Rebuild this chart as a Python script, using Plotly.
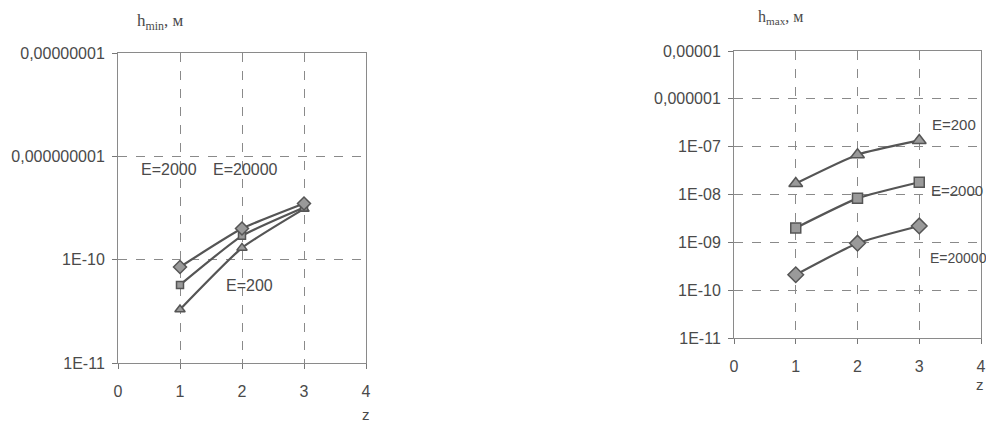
import plotly.graph_objects as go

z = [1, 2, 3]

# Left chart: h_min, m
hmin_E200 = [3.3e-11, 1.3e-10, 3.1e-10]
hmin_E2000 = [5.7e-11, 1.7e-10, 3.2e-10]
hmin_E20000 = [8.5e-11, 2.0e-10, 3.5e-10]

# Right chart: h_max, m
hmax_E200 = [1.7e-8, 6.8e-8, 1.35e-7]
hmax_E2000 = [2.0e-9, 8.3e-9, 1.8e-8]
hmax_E20000 = [2.1e-10, 9.6e-10, 2.2e-9]

left_tickvals = [1e-11, 1e-10, 1e-9, 1e-8]
left_ticktext = ["1E-11", "1E-10", "0,000000001", "0,00000001"]
right_tickvals = [1e-11, 1e-10, 1e-9, 1e-8, 1e-7, 1e-6, 1e-5]
right_ticktext = ["1E-11", "1E-10", "1E-09", "1E-08", "1E-07", "0,000001", "0,00001"]
x_tickvals = [0, 1, 2, 3, 4]

LINE = "#555555"
MFILL = "#9a9a9a"
TXT = "#4a4a4a"
FONT = "Liberation Sans, Arial, sans-serif"

OFF = 8  # page body margin offset
W, H = 994 - 2 * OFF, 430 - 2 * OFF  # avoid page scrollbars

def px(x):
    return (x - OFF) / W

def py(y):
    return 1 - (y - OFF) / H

fig = go.Figure()

def add(xa, ya, ys, sym, size):
    fig.add_trace(go.Scatter(
        x=z, y=ys, xaxis=xa, yaxis=ya, mode="lines+markers",
        line=dict(color=LINE, width=2.2, shape="spline", smoothing=0.5),
        marker=dict(symbol=sym, size=size, color=MFILL, line=dict(color=LINE, width=1.5)),
        showlegend=False, hoverinfo="x+y"))

add("x", "y", hmin_E200, "triangle-up", 9)
add("x", "y", hmin_E2000, "square", 7)
add("x", "y", hmin_E20000, "diamond", 10)
add("x2", "y2", hmax_E200, "triangle-up", 12)
add("x2", "y2", hmax_E2000, "square", 10)
add("x2", "y2", hmax_E20000, "diamond", 12)

axis_common = dict(
    showgrid=True, gridcolor="#8a8a8a", griddash="dash", gridwidth=1,
    showline=True, linecolor="#8a8a8a", linewidth=1, mirror=True,
    ticks="outside", ticklen=5, tickcolor="#777777",
    tickfont=dict(family=FONT, size=16, color=TXT),
    zeroline=False, automargin=False, ticklabeloverflow="allow",
)

fig.update_layout(
    width=W, height=H,
    margin=dict(l=0, r=0, t=0, b=0, autoexpand=False),
    paper_bgcolor="white", plot_bgcolor="white",
    xaxis=dict(domain=[px(118), px(366)], range=[0, 4], tickvals=x_tickvals,
               anchor="y", ticklabelstandoff=9, **axis_common),
    yaxis=dict(domain=[py(363), py(53)], type="log", range=[-11, -8],
               tickvals=left_tickvals, ticktext=left_ticktext, anchor="x",
               ticklabelstandoff=4, **axis_common),
    xaxis2=dict(domain=[px(734), px(981)], range=[0, 4], tickvals=x_tickvals,
                anchor="y2", ticklabelstandoff=9, **axis_common),
    yaxis2=dict(domain=[py(338), py(51)], type="log", range=[-11, -5],
                tickvals=right_tickvals, ticktext=right_ticktext, anchor="x2",
                ticklabelstandoff=4, **axis_common),
)

def ann(x, y, text, size=16, family=FONT, xanchor="left", color=TXT):
    fig.add_annotation(x=px(x), y=py(y), xref="paper", yref="paper", text=text,
                       showarrow=False, xanchor=xanchor, yanchor="middle",
                       font=dict(family=family, size=size, color=color))

SERIF = "Liberation Serif, Times New Roman, serif"
ann(135, 22, "h<sub>min</sub>, м", size=17, family=SERIF)
ann(756, 18, "h<sub>max</sub>, м", size=16, family=SERIF)

ann(139, 170, "E=2000")
ann(211, 170, "E=20000")
ann(224, 285, "E=200")

ann(930, 124, "E=200", size=15)
ann(929, 191, "E=2000", size=15)
ann(928, 258, "E=20000", size=14)

ann(366, 414, "z", size=15, xanchor="center")
ann(980, 384, "z", size=15, xanchor="center")

fig.write_html("out.html")
